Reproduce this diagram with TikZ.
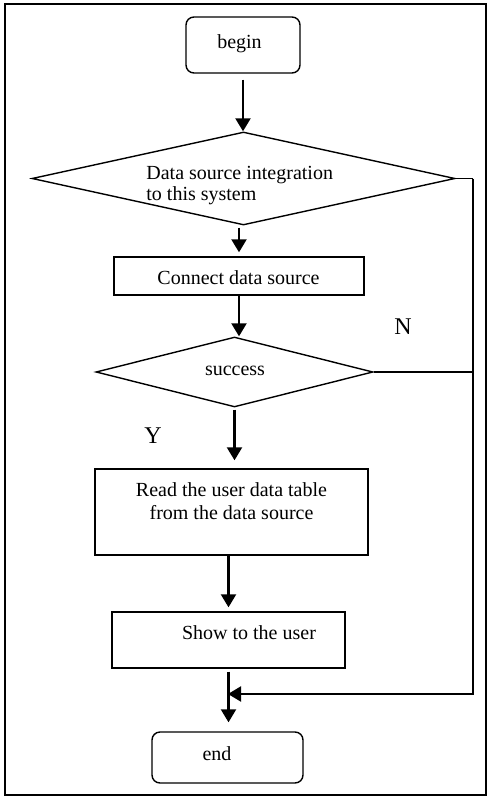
\documentclass[tikz,border=0pt]{standalone}
\usepackage{fontspec}
\setmainfont{Liberation Serif}
\usetikzlibrary{shapes.geometric,arrows.meta}
\begin{document}
\begin{tikzpicture}[x=0.5pt,y=-0.5pt,
  box/.style={draw,line width=0.7pt,rectangle,inner sep=0pt},
  rbox/.style={box,rounded corners=4pt},
  dia/.style={draw,line width=0.7pt,diamond,inner sep=0pt},
  txt/.style={inner sep=0pt,font=\fontsize{10}{11.5}\selectfont},
  lbl/.style={inner sep=0pt,font=\fontsize{12}{14}\selectfont},
  tip/.style={-{Triangle[width=7.5pt,length=6.5pt]}},
  arr/.style={line width=1.1pt,tip},
  ln/.style={line width=0.8pt}]
\useasboundingbox (0,0) rectangle (489,797);
\draw[line width=0.75pt] (5,4) rectangle (486,795);
% nodes
\node[rbox,minimum width=57pt,minimum height=28pt] (begin) at (243,45) {};
\node[txt] (begintext) at (239.5,44) {begin};
\node[dia,minimum width=211.5pt,minimum height=46.5pt] (d1) at (243.5,178.5) {};
\node[txt,anchor=north west,align=left,font=\fontsize{10}{10.5}\selectfont] (d1text) at (146,165.5) {Data source integration\\to this system};
\node[box,minimum width=125pt,minimum height=19pt] (conn) at (239,276) {};
\node[txt] (conntext) at (238.5,278) {Connect data source};
\node[dia,minimum width=138.5pt,minimum height=35pt] (succ) at (234.5,372) {};
\node[txt] (succtext) at (235,371) {success};
\node[box,minimum width=136.5pt,minimum height=43pt] (read) at (231.5,512) {};
\node[txt,align=center] (readtext) at (231.5,501) {Read the user data table\\from the data source};
\node[box,minimum width=116.5pt,minimum height=28pt] (show) at (228.5,640) {};
\node[txt] (showtext) at (249,633) {Show to the user};
\node[rbox,minimum width=75.5pt,minimum height=25.5pt] (end) at (227.5,757.5) {};
\node[txt] (endtext) at (217,754) {end};
\node[lbl] (N) at (403,327) {N};
\node[lbl] (Y) at (153,436) {Y};
\coordinate (r1) at (473,178.5);
\coordinate (j) at (228,694);
% connectors
\draw[arr,shorten <=3pt] (begin.south) -- (begin.south |- d1.north);
\draw[arr,shorten <=1pt,shorten >=2pt] (conn.north |- d1.south) -- (conn.north);
\draw[arr] (conn.south) -- (conn.south |- succ.north);
\draw[arr,shorten <=1pt,shorten >=4pt] (succ.south) -- (succ.south |- read.north);
\draw[arr,shorten >=2pt] (show.north |- read.south) -- (show.north);
\draw[arr,shorten <=1.5pt,shorten >=4.5pt] (show.south) -- (show.south |- end.north);
\draw[ln] (d1.east) -- (r1);
\draw[ln] (succ.east) -- (succ.east -| r1);
\draw[ln,line width=1pt,tip] (r1) |- (j);
\end{tikzpicture}
\end{document}
